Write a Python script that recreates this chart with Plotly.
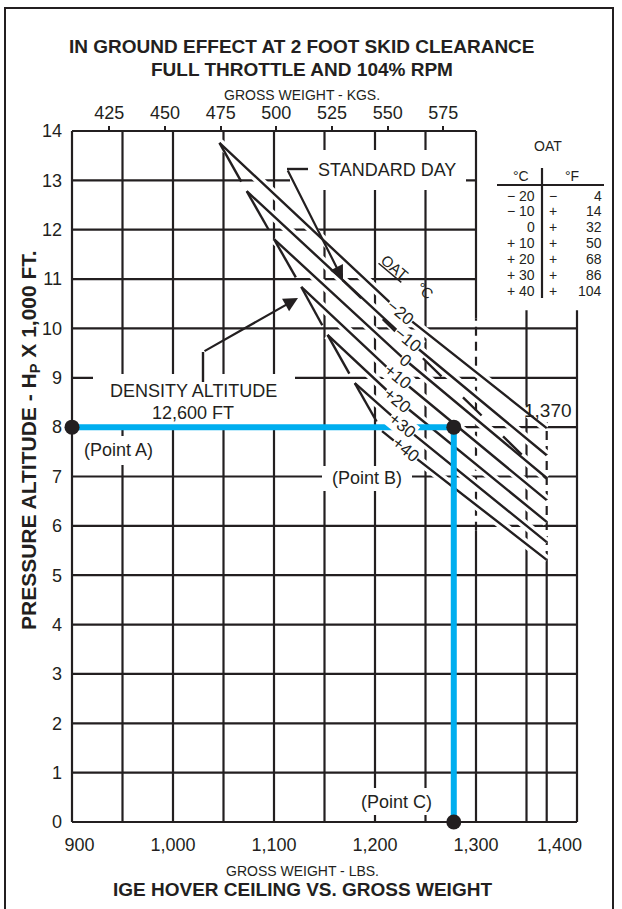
import plotly.graph_objects as go

# ---- data ----
weight_ticks_lbs = [900, 1000, 1100, 1200, 1300, 1400]
weight_tick_text = ["\u00a0\u00a0\u00a0900", "1,000", "1,100", "1,200", "1,300",
                    "1,400" + "\u00a0" * 7]
weight_ticks_kg = [425, 450, 475, 500, 525, 550, 575]
altitude_ticks = list(range(0, 15))
grid_weights = [900, 950, 1000, 1050, 1100, 1150, 1200, 1250, 1300, 1350, 1400]

# OAT conversion table
oat_c = ["\u2212 20", "\u2212 10", "0", "+ 10", "+ 20", "+ 30", "+ 40"]
oat_f_sign = ["\u2212", "+", "+", "+", "+", "+", "+"]
oat_f_val = ["4", "14", "32", "50", "68", "86", "104"]

# OAT lines: start on the 12,600 ft density altitude line, end on the 1,370 lb limit
oat_line_labels = ["\u221220", "\u221210", "0", "+10", "+20", "+30", "+40"]
oat_start_lbs = [1046, 1073, 1100, 1127, 1153, 1180, 1207]
oat_start_alt = [13.76, 12.78, 11.81, 10.84, 9.87, 8.89, 7.92]
oat_knee_lbs = [1225, 1232, 1230, 1222, 1222, 1227, 1230]
oat_knee_alt = [10.33, 9.77, 9.36, 9.02, 8.55, 8.04, 7.54]
oat_end_lbs = [1370, 1370, 1370, 1370, 1370, 1370, 1370]
oat_end_alt = [7.98, 7.43, 6.97, 6.52, 6.08, 5.67, 5.31]

std_day_lbs = [1168, 1370]
std_day_alt = [10.98, 6.95]

max_gross_weight = 1370
example_pa = 8.0
example_gw = 1278

LBS_PER_KG = 2.20462

INK = "#231f20"
BLUE = "#00aeef"
FONT = "Liberation Sans, Arial, Helvetica, sans-serif"

W, H = 622, 909
# 900 lbs -> x=72px, 1400 lbs -> 577px ; 0 ft -> y=822px, 14,000 ft -> 131px
SX = 505 / 500
SY = 691 / 14
XR = [900 - 3 / SX, 1400 + 3 / SX]
YR = [-4 / SY, 14 + 4 / SY]
ML, MR, MT, MB = 69, W - 580, 127, H - 826


def pxp(x):
    return (x - ML) / (W - ML - MR)


def pyp(y):
    return (H - MB - y) / (H - MT - MB)


def lbs(x):
    return 900 + (x - 72) / SX


def alt(y):
    return (822 - y) / SY


fig = go.Figure()
shapes = []


def grid(x0, y0, x1, y1, dash="solid"):
    shapes.append(dict(type="line", xref="x", yref="y", x0=x0, y0=y0, x1=x1, y1=y1,
                       layer="below", line=dict(color=INK, width=2.2, dash=dash)))


for a in altitude_ticks:
    grid(900, a, 1400 if a <= 10 else 1300, a)
for w in grid_weights:
    if w < 1300:
        grid(w, 0, w, 14)
    elif w == 1300:
        grid(w, 0, w, 5.9)
        grid(w, 5.9, w, 10.2, dash="9px,6px")
        grid(w, 10.2, w, 14)
    else:
        grid(w, 0, w, 10.37)
grid(max_gross_weight, 0, max_gross_weight, oat_end_alt[-1])
grid(max_gross_weight, oat_end_alt[-1], max_gross_weight, 8.1, dash="9px,6px")


def mask(x0, y0, x1, y1):
    shapes.append(dict(type="rect", xref="x", yref="y", x0=lbs(x0), x1=lbs(x1),
                       y0=alt(y0), y1=alt(y1), layer="below",
                       fillcolor="white", line=dict(width=0)))


mask(290, 150, 466, 190)    # STANDARD DAY
mask(93, 374, 295, 425)     # DENSITY ALTITUDE
mask(78, 436, 160, 465)     # (Point A)
mask(322, 466, 412, 491)    # (Point B)
mask(355, 788, 436, 815)    # (Point C)

# white halos under the diagonal lines
for i in range(len(oat_line_labels)):
    fig.add_trace(go.Scatter(
        x=[oat_start_lbs[i], oat_knee_lbs[i], oat_end_lbs[i]],
        y=[oat_start_alt[i], oat_knee_alt[i], oat_end_alt[i]],
        mode="lines", line=dict(color="white", width=9), hoverinfo="skip"))

# OAT lines
for i in range(len(oat_line_labels)):
    fig.add_trace(go.Scatter(
        x=[oat_start_lbs[i], oat_knee_lbs[i], oat_end_lbs[i]],
        y=[oat_start_alt[i], oat_knee_alt[i], oat_end_alt[i]],
        mode="lines", line=dict(color=INK, width=2.4), hoverinfo="skip"))

# density altitude line, broken between the OAT line starts
for i in range(len(oat_start_lbs) - 1):
    x0, y0 = oat_start_lbs[i], oat_start_alt[i]
    x1, y1 = oat_start_lbs[i + 1], oat_start_alt[i + 1]
    f = 0.8
    fig.add_trace(go.Scatter(
        x=[x0, x0 + f * (x1 - x0)], y=[y0, y0 + f * (y1 - y0)],
        mode="lines", line=dict(color=INK, width=2.4), hoverinfo="skip"))

# standard day
fig.add_trace(go.Scatter(x=std_day_lbs, y=std_day_alt, mode="lines",
                         line=dict(color=INK, width=2.4, dash="26px,30px"),
                         hoverinfo="skip"))

# leader lines
leaders = [
    [(308, 169), (287, 169)],
    [(203, 382), (203, 352)],
]
for pts in leaders:
    fig.add_trace(go.Scatter(x=[lbs(p[0]) for p in pts], y=[alt(p[1]) for p in pts],
                             mode="lines", line=dict(color=INK, width=2.4),
                             hoverinfo="skip"))

# example path A -> B -> C
fig.add_trace(go.Scatter(x=[900, example_gw, example_gw], y=[example_pa, example_pa, 0],
                         mode="lines", line=dict(color=BLUE, width=6),
                         hoverinfo="skip", cliponaxis=False))
fig.add_trace(go.Scatter(x=[900, example_gw, example_gw], y=[example_pa, example_pa, 0],
                         mode="markers", marker=dict(color=INK, size=15),
                         hoverinfo="skip", cliponaxis=False))

ann = []


def text(x, y, s, size=18, bold=False, ref="paper", **kw):
    if bold:
        s = "<b>" + s + "</b>"
    d = dict(text=s, showarrow=False, xanchor="center", yanchor="middle",
             font=dict(family=FONT, size=size, color=INK))
    if ref == "paper":
        d.update(xref="paper", yref="paper", x=pxp(x), y=pyp(y))
    else:
        d.update(xref="x", yref="y", x=lbs(x), y=alt(y))
    d.update(kw)
    ann.append(d)


text(302, 46, "IN GROUND EFFECT AT 2 FOOT SKID CLEARANCE", 19, True)
text(302, 70, "FULL THROTTLE AND 104% RPM", 19, True)
text(302, 95, "GROSS WEIGHT - KGS.", 14)
text(302, 871, "GROSS WEIGHT - LBS.", 14)
text(302, 889, "IGE HOVER CEILING VS. GROSS WEIGHT", 19, True)
text(30, 440, "PRESSURE ALTITUDE - H<sub>P</sub> X 1,000 FT.", 21, True, textangle=-90)

# OAT table
text(548, 146, "OAT", 14)
text(521, 176, "\u00b0C", 14)
text(572, 176, "\u00b0F", 14)
rows_y = [196, 211, 227, 243, 259, 275, 291]
for i, yy in enumerate(rows_y):
    text(537, yy, oat_c[i], 14, xanchor="right")
    text(547, yy, oat_f_sign[i], 14, xanchor="left")
    text(604, yy, oat_f_val[i], 14, xanchor="right")
shapes.append(dict(type="line", xref="paper", yref="paper", x0=pxp(497), x1=pxp(604),
                   y0=pyp(185), y1=pyp(185), line=dict(color=INK, width=2)))
shapes.append(dict(type="line", xref="paper", yref="paper", x0=pxp(542), x1=pxp(542),
                   y0=pyp(168), y1=pyp(298), line=dict(color=INK, width=2.2)))

# labels inside the chart
text(387, 170, "STANDARD DAY", 18, ref="data")
text(193, 391, "DENSITY ALTITUDE", 18, ref="data")
text(193, 413, "12,600 FT", 18, ref="data")
text(118, 450, "(Point A)", 18, ref="data")
text(367, 478, "(Point B)", 18, ref="data")
text(396, 802, "(Point C)", 18, ref="data")
text(548, 410, "1,370", 19, ref="data")
text(395, 267, "<u>OAT</u>", 15, ref="data", textangle=40)
text(425, 290, "\u00b0C", 15, ref="data", textangle=40)
for i, lab in enumerate(oat_line_labels):
    ann.append(dict(x=oat_knee_lbs[i], y=oat_knee_alt[i], xref="x", yref="y",
                    text=lab, showarrow=False, textangle=39, bgcolor="white",
                    xanchor="center", yanchor="middle",
                    borderpad=0, font=dict(family=FONT, size=17, color=INK)))

# arrows of the leaders
for (tx, ty), (fx, fy) in [((343, 280), (287, 169)), ((298, 298), (203, 352))]:
    ann.append(dict(x=lbs(tx), y=alt(ty), ax=lbs(fx), ay=alt(fy), xref="x", yref="y",
                    axref="x", ayref="y", text="", showarrow=True, arrowhead=2,
                    arrowsize=1.3, arrowwidth=2.2, arrowcolor=INK, standoff=0))

# outer frame
shapes.append(dict(type="rect", xref="paper", yref="paper", x0=pxp(5), x1=pxp(613),
                   y0=pyp(930), y1=pyp(8), line=dict(color=INK, width=2)))

fig.update_layout(
    width=W, height=H, autosize=False,
    margin=dict(l=ML, r=MR, t=MT, b=MB, autoexpand=False),
    paper_bgcolor="white", plot_bgcolor="white",
    showlegend=False,
    shapes=shapes, annotations=ann,
    xaxis=dict(range=XR, tickvals=weight_ticks_lbs, ticktext=weight_tick_text,
               showgrid=False, zeroline=False, showline=False, ticks="",
               ticklabelstandoff=6, automargin=False,
               tickfont=dict(family=FONT, size=18, color=INK)),
    xaxis2=dict(range=[XR[0] / LBS_PER_KG, XR[1] / LBS_PER_KG], overlaying="x",
                side="top", anchor="free", position=pyp(131), automargin=False,
                tickvals=weight_ticks_kg, ticks="outside", ticklen=5, tickwidth=2,
                tickcolor=INK, showgrid=False, zeroline=False, showline=False,
                tickfont=dict(family=FONT, size=18, color=INK)),
    yaxis=dict(range=YR, tickvals=altitude_ticks, showgrid=False, zeroline=False,
               showline=False, ticks="", ticklabelstandoff=6, automargin=False,
               tickfont=dict(family=FONT, size=18, color=INK)),
)
# invisible trace so the kg axis is drawn
fig.add_trace(go.Scatter(x=[450], y=[0], xaxis="x2", mode="markers",
                         marker=dict(opacity=0), hoverinfo="skip"))

fig.write_html("out.html", config={"displayModeBar": False},
               post_script="document.body.style.margin='0px';")
